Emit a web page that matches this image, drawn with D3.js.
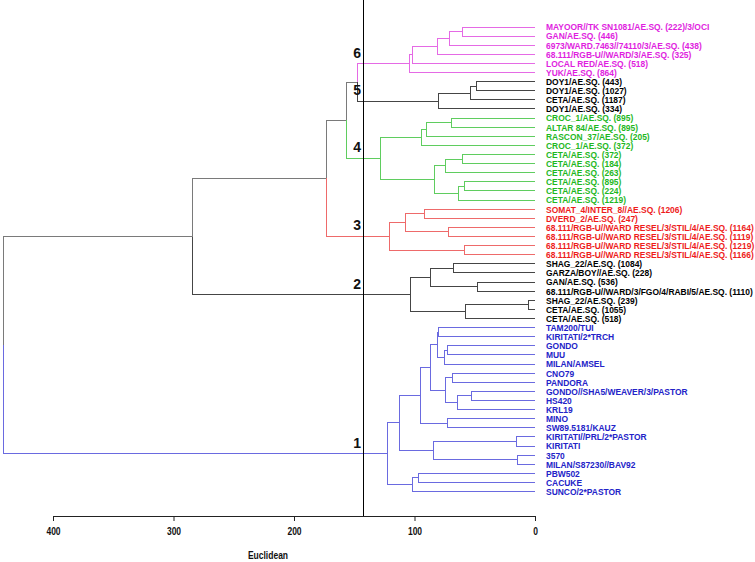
<!DOCTYPE html>
<html>
<head>
<meta charset="utf-8">
<script src="https://cdn.jsdelivr.net/npm/d3@7"></script>
<style>
  body { margin: 0; background: #fff; }
  text { font-family: "Liberation Sans", Arial, sans-serif; font-weight: bold; }
</style>
</head>
<body>
<div class="chart"></div>
<script>
// leaf labels in plotting order (top to bottom)
var leafLabels = [
  "MAYOOR//TK SN1081/AE.SQ. (222)/3/OCI", "GAN/AE.SQ. (446)", "6973/WARD.7463//74110/3/AE.SQ. (438)",
  "68.111/RGB-U//WARD/3/AE.SQ. (325)", "LOCAL RED/AE.SQ. (518)", "YUK/AE.SQ. (864)",
  "DOY1/AE.SQ. (443)", "DOY1/AE.SQ. (1027)", "CETA/AE.SQ. (1187)", "DOY1/AE.SQ. (334)",
  "CROC_1/AE.SQ. (895)", "ALTAR 84/AE.SQ. (895)", "RASCON_37/AE.SQ. (205)", "CROC_1/AE.SQ. (372)",
  "CETA/AE.SQ. (372)", "CETA/AE.SQ. (184)", "CETA/AE.SQ. (263)", "CETA/AE.SQ. (895)",
  "CETA/AE.SQ. (224)", "CETA/AE.SQ. (1219)",
  "SOMAT_4/INTER_8//AE.SQ. (1206)", "DVERD_2/AE.SQ. (247)",
  "68.111/RGB-U//WARD RESEL/3/STIL/4/AE.SQ. (1164)", "68.111/RGB-U//WARD RESEL/3/STIL/4/AE.SQ. (1119)",
  "68.111/RGB-U//WARD RESEL/3/STIL/4/AE.SQ. (1219)", "68.111/RGB-U//WARD RESEL/3/STIL/4/AE.SQ. (1166)",
  "SHAG_22/AE.SQ. (1084)", "GARZA/BOY//AE.SQ. (228)", "GAN/AE.SQ. (536)",
  "68.111/RGB-U//WARD/3/FGO/4/RABI/5/AE.SQ. (1110)", "SHAG_22/AE.SQ. (239)", "CETA/AE.SQ. (1055)",
  "CETA/AE.SQ. (518)",
  "TAM200/TUI", "KIRITATI/2*TRCH", "GONDO", "MUU", "MILAN/AMSEL", "CNO79", "PANDORA",
  "GONDO//SHA5/WEAVER/3/PASTOR", "HS420", "KRL19", "MINO", "SW89.5181/KAUZ",
  "KIRITATI//PRL/2*PASTOR", "KIRITATI", "3570", "MILAN/S87230//BAV92", "PBW502", "CACUKE",
  "SUNCO/2*PASTOR"
];

// cluster number of each leaf
var leafCluster = [
  6, 6, 6, 6, 6, 6,
  5, 5, 5, 5,
  4, 4, 4, 4, 4, 4, 4, 4, 4, 4,
  3, 3, 3, 3, 3, 3,
  2, 2, 2, 2, 2, 2, 2,
  1, 1, 1, 1, 1, 1, 1, 1, 1, 1, 1, 1, 1, 1, 1, 1, 1, 1, 1
];

// hclust style merges: negative = leaf (1-based), positive = earlier merge step; third = height
var merges = [
  [-1, -2, 60], [1, -3, 71.1], [2, -4, 81.1], [3, -5, 101.5], [4, -6, 104.3],
  [-7, -8, 48.4], [6, -9, 53.4], [7, -10, 79.7], [5, 8, 147.1],
  [-11, -12, 69.1], [10, -13, 89.9], [11, -14, 94], [-15, -16, 60], [13, -17, 73.9],
  [-18, -19, 58.1], [15, -20, 63.1], [14, 16, 83], [12, 17, 128], [9, 18, 156.3],
  [-21, -22, 91.9], [-23, -24, 72], [20, 21, 107.6], [-25, -26, 58.7], [22, 23, 120.9],
  [19, 24, 173.4],
  [-27, -28, 67.8], [-29, -30, 47.9], [26, 27, 86.6], [-31, -32, 5.6], [29, -33, 57.8],
  [28, 30, 103.2], [25, 31, 284],
  [-34, -35, 79.7], [-36, -37, 73], [34, -38, 75.5], [33, 35, 81.1], [-39, -40, 68.3],
  [-41, -42, 52.5], [38, -43, 64.5], [37, 39, 73.9], [36, 40, 86.6], [-44, -45, 72.4],
  [41, 42, 94.9], [-46, -47, 15.2], [-48, -49, 14.7], [44, 45, 84.4], [43, 46, 112.6],
  [-50, -51, 96.8], [48, -52, 101.8], [47, 49, 122.2],
  [32, 50, 441.3]
];

var cutHeight = 142.7;
var axisTicks = [400, 300, 200, 100, 0];
var axisTitle = "Euclidean";

var clusterText = { 1: "#2323c8", 2: "#000000", 3: "#ee1c1c", 4: "#1fb81f", 5: "#000000", 6: "#e01ee0" };
var clusterLine = { 1: "#6a6ae0", 2: "#454545", 3: "#ee6a6a", 4: "#5fcd5f", 5: "#454545", 6: "#e56ae5" };
var upperLine = "#7a7a7a";

var svgWidth = 755;
var svgHeight = 562;
var axisY = 516;

var svg = d3.select(".chart")
  .append("svg")
  .attr("width", svgWidth)
  .attr("height", svgHeight);

// height -> x, leaf order -> y
var xScale = d3.scaleLinear().domain([400, 0]).range([53, 535]);
var yScale = d3.scaleLinear().domain([0, leafLabels.length - 1]).range([27, 491.6]);

// build nested tree from the merge table
function buildNode(ref) {
  if (ref < 0) return { leaf: -ref - 1 };
  var m = merges[ref - 1];
  return { h: m[2], children: [buildNode(m[0]), buildNode(m[1])] };
}
var root = d3.hierarchy(buildNode(merges.length));

root.eachAfter(function(d) {
  if (!d.children) {
    d.px = xScale(0);
    d.py = yScale(d.data.leaf);
    d.cl = leafCluster[d.data.leaf];
  } else {
    d.px = xScale(d.data.h);
    d.py = d3.mean(d.children, c => c.py);
    var c0 = d.children[0].cl, c1 = d.children[1].cl;
    d.cl = (c0 && c0 === c1) ? c0 : null;
  }
});

// branches
var links = root.descendants().filter(d => d.parent);
svg.append("g")
  .attr("fill", "none")
  .attr("stroke-width", 1)
  .attr("shape-rendering", "crispEdges")
  .selectAll("path")
  .data(links)
  .enter()
  .append("path")
  .attr("d", d => `M${d.parent.px},${d.parent.py}V${d.py}H${d.px}`)
  .attr("stroke", d => d.cl ? clusterLine[d.cl] : upperLine);

// leaf labels
svg.append("g")
  .selectAll("text")
  .data(root.leaves())
  .enter()
  .append("text")
  .attr("transform", d => `translate(546,${d.py}) scale(0.88,1)`)
  .attr("dy", "0.35em")
  .style("font-size", "9.6px")
  .attr("fill", d => clusterText[d.cl])
  .text(d => leafLabels[d.data.leaf]);

// cut line
svg.append("line")
  .attr("x1", xScale(cutHeight)).attr("x2", xScale(cutHeight))
  .attr("y1", 0).attr("y2", axisY)
  .attr("stroke", "#000")
  .attr("shape-rendering", "crispEdges");

// cluster numbers
var clusterRoots = root.descendants().filter(d => d.cl && !(d.parent && d.parent.cl));
svg.append("g")
  .selectAll("text")
  .data(clusterRoots)
  .enter()
  .append("text")
  .attr("x", xScale(cutHeight) - 2)
  .attr("y", d => d.py - 11)
  .attr("dy", "0.35em")
  .attr("text-anchor", "end")
  .style("font-size", "14px")
  .attr("fill", "#111")
  .text(d => d.cl);

// x axis
var bottomAxis = d3.axisBottom(xScale).tickValues(axisTicks).tickSize(5).tickPadding(7);
var xAxis = svg.append("g")
  .attr("transform", `translate(0, ${axisY})`)
  .call(bottomAxis);
xAxis.select(".domain").attr("stroke", "#222").attr("shape-rendering", "crispEdges");
xAxis.selectAll(".tick line").attr("stroke", "#222");
xAxis.selectAll(".tick text")
  .attr("fill", "#111")
  .style("font-family", "Liberation Sans, Arial, sans-serif")
  .style("font-weight", "bold")
  .style("font-size", "10px")
  .attr("transform", "scale(0.85,1)");

svg.append("text")
  .attr("transform", `translate(268, 559) scale(0.85,1)`)
  .attr("text-anchor", "middle")
  .style("font-size", "10px")
  .attr("fill", "#111")
  .text(axisTitle);
</script>
</body>
</html>
